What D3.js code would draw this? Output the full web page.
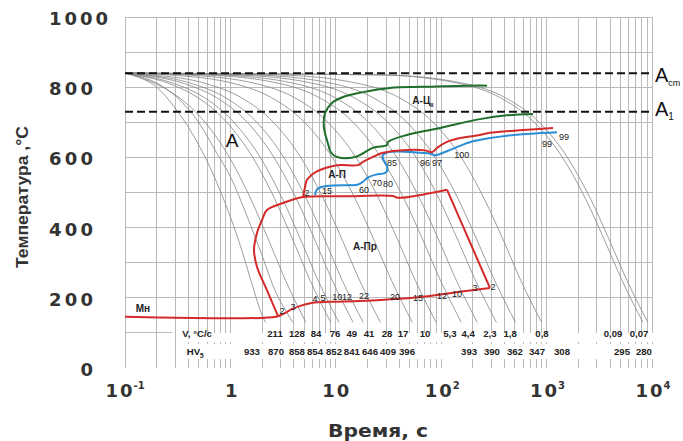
<!DOCTYPE html>
<html><head><meta charset="utf-8">
<script src="https://cdn.jsdelivr.net/npm/d3@7/dist/d3.min.js"></script>
<style>body{margin:0;background:#fff}svg{display:block}</style>
</head><body>
<svg id="c" width="683" height="441"></svg>
<script>
// ---------- DATA ----------
const xTicks = [0.1, 1, 10, 100, 1000, 10000];
const xTickBase = ["10", "1", "10", "10", "10", "10"];
const xTickExp = ["-1", "", "", "2", "3", "4"];
const yTicks = [0, 200, 400, 600, 800, 1000];
const Acm = 840, A1 = 730;

// cooling curves [time s, temperature °C]
const curveHV933 = [[0.1,840],[0.13,830],[0.2,800],[0.3,740],[0.45,660],[0.6,590],[0.8,505],[1.0,430],[1.3,330],[1.6,240],[2.0,150],[2.15,130]];
const curveV211 = [[0.1,840],[0.14,830],[0.22,805],[0.34,760],[0.5,700],[0.75,610],[1.0,545],[1.45,430],[2.0,320],[2.7,215],[3.4,160],[3.9,130]];
const curveV128 = [[0.1,840],[0.116,835],[0.195,810],[0.327,770],[0.575,700],[0.979,600],[1.57,480],[2.34,360],[3.33,250],[5.2,130]];
const curveV84 = [[0.1,840],[0.127,835],[0.264,810],[0.493,770],[0.924,700],[1.63,600],[2.65,480],[3.98,360],[5.7,250],[8.95,130]];
const curveV76 = [[0.1,840],[0.132,835],[0.296,810],[0.569,770],[1.08,700],[1.92,600],[3.14,480],[4.73,360],[6.78,250],[10.7,130]];
const curveV49 = [[0.1,840],[0.144,835],[0.368,810],[0.742,770],[1.45,700],[2.59,600],[4.26,480],[6.43,360],[9.25,250],[14.6,130]];
const curveV41 = [[0.1,840],[0.155,835],[0.435,810],[0.902,770],[1.78,700],[3.21,600],[5.3,480],[8.02,360],[11.5,250],[18.2,130]];
const curveV28 = [[0.1,840],[0.18,835],[0.59,810],[1.27,770],[2.56,700],[4.65,600],[7.7,480],[11.7,360],[16.8,250],[26.5,130]];
const curveV17 = [[0.1,840],[0.262,835],[1.09,810],[2.46,770],[5.05,700],[9.25,600],[15.4,480],[23.4,360],[33.7,250],[53.2,130]];
const curveV10 = [[0.1,840],[0.372,835],[1.76,810],[4.07,770],[8.43,700],[15.5,600],[25.8,480],[39.3,360],[56.7,250],[89.5,130]];
const curveV5_3 = [[0.1,840],[0.573,835],[2.98,810],[6.99,770],[14.6,700],[26.8,600],[44.7,480],[68.1,360],[98.3,250],[155,130]];
const curveV4_4 = [[0.1,840],[0.769,835],[4.17,810],[9.84,770],[20.5,700],[37.9,600],[63.2,480],[96.2,360],[139,250],[220,130]];
const curveV2_3 = [[0.1,840],[1.12,835],[6.3,810],[14.9,770],[31.2,700],[57.7,600],[96.2,480],[146,360],[211,250],[334,130]];
const curveV1_8 = [[0.1,840],[1.64,835],[9.5,810],[22.6,770],[47.3,700],[87.4,600],[146,480],[222,360],[321,250],[507,130]];
const curveV0_8 = [[0.1,840],[2.84,835],[16.8,810],[40,770],[83.7,700],[155,600],[258,480],[394,360],[568,250],[898,130]];
const curveV0_09 = [[0.1,840],[25.1,835],[152,810],[364,770],[764,700],[1414,600],[2360,480],[3594,360],[5190,250],[8200,130]];
const curveV0_07 = [[0.1,840],[27.9,835],[170,810],[406,770],[851,700],[1574,600],[2628,480],[4002,360],[5778,250],[9130,130]];
const coolingCurves = [curveHV933, curveV211, curveV128, curveV84, curveV76, curveV49, curveV41, curveV28,
  curveV17, curveV10, curveV5_3, curveV4_4, curveV2_3, curveV1_8, curveV0_8, curveV0_09, curveV0_07];

// transformation lines
const bainiteBottom = [[0.1,146],[2.7,146],[3.2,155],[3.8,167],[4.6,177],[5.6,184],[6.6,187],[9.4,189],[17,191],[40,197],[78,205],[150,217],[290,228]];
const bainiteRight = [[290,228],[113.5,508]];
const bainiteTop = [[113.5,508],[38.5,485],[35,490],[12,489],[4.89,487],[3.16,470],[2.22,450],[2.0,422],[1.79,385],[1.675,336],[1.79,288],[2.22,222],[2.83,148]];
const pearliteStart = [[4.89,487],[5.1,515],[5.33,536],[6.2,555],[7.08,564],[9,574],[11,578],[16.3,578],[18.1,587],[22,600],[28.1,613],[47.3,621],[70,620],[82,615],[92,628],[113.5,644],[151,655],[233,664],[290,670],[597,678],[1151,684]];
const pearliteEnd = [[6.35,493],[6.6,508],[7.2,515],[8.5,519],[13,521],[16,522],[18,530],[20.2,543],[24,551],[29,555],[30.8,562],[30.6,575],[28.5,592],[27.8,605],[30.6,614],[40,617],[58,614],[78,611],[88,606],[100,611],[130,625],[200,646],[421,662],[1256,672]];
const cementite = [[272,804],[233,805],[67,801],[32.7,798],[18.1,786],[11.7,772],[9.2,755],[7.9,726],[7.7,687],[8.4,641],[9.0,614],[10.3,601],[15.2,601],[22.5,627],[30.6,635],[31.3,644],[47.3,664],[98,684],[233,709],[421,720],[743,724]];

// table rows
const vLabels = ["211","128","84","76","49","41","28","17","10","5,3","4,4","2,3","1,8","0,8","0,09","0,07"];
const vLabelTimes = [2.65,4.28,6.49,9.83,14.2,20.7,30.6,43.4,70.2,121,180,290,450,904,4266,7530];
const hvLabels = ["933","870","858","854","852","841","646","409","396","393","390","362","347","308","295","280"];
const hvLabelTimes = [1.60,2.71,4.28,6.35,9.61,14.2,21.1,31.3,47.4,184,303,501,811,1400,5190,8390];

// percentage labels on bainite line
const bainitePct = ["2","3","4","5","10","12","22","20","15","12","10","3","2"];
const bainitePctTimes = [3.09,3.93,6.35,7.56,10.3,12.8,18.5,36.5,60.3,102,141,209,310];
const bainitePctTemps = [162,174,197,199,202,202,205,202,199,205,211,228,231];
// percentage labels in pearlite region
const pearlitePct = ["2","15","60","70","80","85","96","97","100","99","99"];
const pearlitePctTimes = [5.33,8.25,18.5,24.6,31.3,34.1,70.2,91.2,157,1009,1462];
const pearlitePctTemps = [499,504,507,527,524,584,584,584,607,638,658];

// region labels
const regionLabels = ["А-П","А-Пр","А-Ц"];
const regionTimes = [10.3,18.9,67.1];
const regionTemps = [553,348,764];

// ---------- DRAWING ----------
const x = d3.scaleLog().domain([0.1, 1e4]).range([125, 652]);
const y = d3.scaleLinear().domain([0, 1000]).range([368, 17]);
const svg = d3.select("#c");

// grid
const gridTimes = [];
for (let e = -1; e < 4; e++) for (let m = 1; m < 10; m++) gridTimes.push(+(m * Math.pow(10, e)).toPrecision(3));
gridTimes.push(1e4);
const gridTemps = d3.range(200, 1001, 100);

const grid = svg.append("g").attr("stroke", "#bababa").attr("stroke-width", 1).attr("shape-rendering", "crispEdges");
grid.selectAll(".gv").data(gridTimes).join("line")
  .attr("x1", d => x(d)).attr("x2", d => x(d))
  .attr("y1", y(1000)).attr("y2", d => d < 0.35 ? y(0) : y(100));
grid.selectAll(".gd").data(gridTimes.filter(d => d >= 0.35)).join("line")
  .attr("x1", d => x(d)).attr("x2", d => x(d))
  .attr("y1", y(74)).attr("y2", y(68));
grid.selectAll(".gt").data(gridTimes.filter(d => d >= 0.35)).join("line")
  .attr("x1", d => x(d)).attr("x2", d => x(d))
  .attr("y1", y(0)).attr("y2", y(25));
grid.selectAll(".gh").data(gridTemps).join("line")
  .attr("x1", x(0.1)).attr("x2", x(1e4))
  .attr("y1", d => y(d)).attr("y2", d => y(d));
grid.append("line").attr("x1", x(0.1)).attr("x2", x(0.28)).attr("y1", y(100)).attr("y2", y(100));

// cooling curves
const coolLine = d3.line().x(d => x(d[0])).y(d => y(d[1])).curve(d3.curveMonotoneX);
svg.append("g").selectAll("path").data(coolingCurves).join("path")
  .attr("d", coolLine).attr("fill", "none").attr("stroke", "#858585").attr("stroke-width", 0.8);

// critical temperatures
svg.append("g").selectAll("line").data([Acm, A1]).join("line")
  .attr("x1", x(0.1)).attr("x2", x(1e4)).attr("y1", d => y(d)).attr("y2", d => y(d))
  .attr("stroke", "#111").attr("stroke-width", 2).attr("stroke-dasharray", "8,4");

// transformation lines
const tLine = d3.line().x(d => x(d[0])).y(d => y(d[1])).curve(d3.curveCatmullRom.alpha(0.5));
const lin = d3.line().x(d => x(d[0])).y(d => y(d[1]));
const red = "#d42a2a", blue = "#2a8ed6", green = "#1f6f2b";
svg.append("path").attr("d", tLine(cementite)).attr("fill", "none").attr("stroke", green).attr("stroke-width", 2);
svg.append("path").attr("d", tLine(pearliteEnd)).attr("fill", "none").attr("stroke", blue).attr("stroke-width", 2);
svg.append("path").attr("d", tLine(pearliteStart)).attr("fill", "none").attr("stroke", red).attr("stroke-width", 2);
svg.append("path").attr("d", tLine(bainiteBottom)).attr("fill", "none").attr("stroke", red).attr("stroke-width", 2);
svg.append("path").attr("d", lin(bainiteRight)).attr("fill", "none").attr("stroke", red).attr("stroke-width", 2);
svg.append("path").attr("d", tLine(bainiteTop)).attr("fill", "none").attr("stroke", red).attr("stroke-width", 2);

// axis tick labels
const tickFont = "DejaVu Sans, sans-serif";
const yl = svg.append("g").attr("font-family", tickFont).attr("font-weight", "bold").attr("font-size", 18).attr("fill", "#333");
yl.selectAll("text").data(yTicks).join("text")
  .attr("x", d => d === 1000 ? 49 : 93).attr("y", d => y(d) + 8)
  .attr("text-anchor", d => d === 1000 ? "start" : "end")
  .attr("textLength", d => String(d).length * 15 - 1).attr("lengthAdjust", "spacing")
  .text(d => d);

const xl = svg.append("g").attr("font-family", tickFont).attr("font-weight", "bold").attr("fill", "#333");
xTicks.forEach((t, i) => {
  const base = xTickBase[i], ex = xTickExp[i];
  const bw = base.length === 2 ? 27 : 11;
  const ew = ex.length * 6;
  const total = bw + ew;
  const x0 = x(t) - total / 2;
  xl.append("text").attr("x", x0).attr("y", 397).attr("font-size", 18)
    .attr("textLength", bw).attr("lengthAdjust", "spacing").text(base);
  if (ex) xl.append("text").attr("x", x0 + bw + 1).attr("y", 389).attr("font-size", 10).text(ex);
});

// axis titles
svg.append("text").attr("x", 378).attr("y", 437).attr("text-anchor", "middle")
  .attr("font-family", tickFont).attr("font-weight", "bold").attr("font-size", 18).attr("fill", "#333")
  .attr("textLength", 100).attr("lengthAdjust", "spacingAndGlyphs").text("Время, с");
svg.append("text").attr("transform", "translate(28,197) rotate(-90)").attr("text-anchor", "middle")
  .attr("font-family", "Liberation Sans, Arial, sans-serif").attr("font-weight", "bold").attr("font-size", 17).attr("fill", "#333")
  .attr("textLength", 142).attr("lengthAdjust", "spacingAndGlyphs").text("Температура ,°C");

// table rows
const tf = "Liberation Sans, Arial, sans-serif";
const tbl = svg.append("g").attr("font-family", tf).attr("font-size", 9.6).attr("font-weight", "bold").attr("fill", "#222").attr("text-anchor", "middle");
tbl.selectAll(".v").data(vLabels).join("text").attr("x", (d, i) => x(vLabelTimes[i])).attr("y", 337).text(d => d);
tbl.selectAll(".h").data(hvLabels).join("text").attr("x", (d, i) => x(hvLabelTimes[i])).attr("y", 355).text(d => d);
const vt = svg.append("text").attr("x", x(0.35)).attr("y", 337).attr("font-family", tf).attr("font-size", 9.6).attr("font-weight", "bold").attr("fill", "#222");
vt.text("V, °C/c");
const ht = svg.append("text").attr("x", x(0.385)).attr("y", 355).attr("font-family", tf).attr("font-size", 9.6).attr("font-weight", "bold").attr("fill", "#222");
ht.append("tspan").text("HV");
ht.append("tspan").attr("font-size", 6.5).attr("dy", 3).text("5");

// percentage labels
const pl = svg.append("g").attr("font-family", tf).attr("font-size", 9).attr("fill", "#222").attr("text-anchor", "middle");
pl.selectAll(".b").data(bainitePct).join("text")
  .attr("x", (d, i) => x(bainitePctTimes[i])).attr("y", (d, i) => y(bainitePctTemps[i]) + 3).text(d => d);
pl.selectAll(".p").data(pearlitePct).join("text")
  .attr("x", (d, i) => x(pearlitePctTimes[i])).attr("y", (d, i) => y(pearlitePctTemps[i]) + 3).text(d => d);

// region labels
const rl = svg.append("g").attr("font-family", tf).attr("font-size", 10).attr("font-weight", "bold").attr("fill", "#222").attr("text-anchor", "middle");
regionLabels.forEach((s, i) => {
  const t = rl.append("text").attr("x", x(regionTimes[i])).attr("y", y(regionTemps[i]) + 4).text(s);
  if (s === "А-Ц") t.append("tspan").attr("font-size", 6).attr("dy", 3).text("II");
});
svg.append("text").attr("x", x(0.148)).attr("y", y(171) + 4).attr("text-anchor", "middle")
  .attr("font-family", tf).attr("font-size", 10).attr("font-weight", "bold").attr("fill", "#222").text("Мн");
svg.append("text").attr("x", x(1.036)).attr("y", y(650) + 7).attr("text-anchor", "middle")
  .attr("font-family", tf).attr("font-size", 19).attr("fill", "#111").text("A");

// Acm / A1 labels
const ac = svg.append("text").attr("x", 655).attr("y", y(Acm) + 9).attr("font-family", tf).attr("font-size", 20).attr("fill", "#111");
ac.append("tspan").text("A");
ac.append("tspan").attr("font-size", 9).attr("dy", 4).text("cm");
const a1 = svg.append("text").attr("x", 655).attr("y", y(A1) + 4).attr("font-family", tf).attr("font-size", 20).attr("fill", "#111");
a1.append("tspan").text("A");
a1.append("tspan").attr("font-size", 10).attr("dy", 4).text("1");
</script>
</body></html>
